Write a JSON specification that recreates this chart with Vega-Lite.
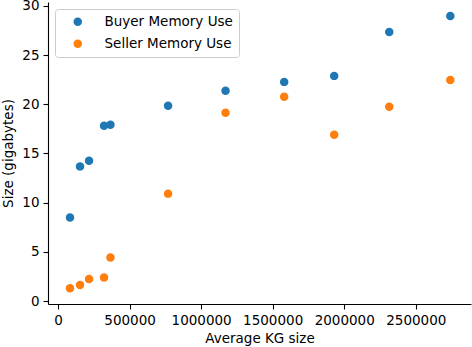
{
  "$schema": "https://vega.github.io/schema/vega-lite/v6.json",
  "width": 423,
  "height": 302,
  "autosize": {"type": "none"},
  "padding": {"left": 48, "top": 2, "right": 1, "bottom": 43},
  "background": "white",
  "config": {
    "view": {"stroke": null},
    "font": "DejaVu Sans",
    "axis": {
      "grid": false,
      "domainColor": "black",
      "domainWidth": 1.1,
      "tickColor": "black",
      "tickWidth": 1.1,
      "tickSize": 5,
      "labelPadding": 4,
      "labelFont": "DejaVu Sans",
      "labelFontSize": 13.5,
      "labelColor": "black",
      "titleFont": "DejaVu Sans",
      "titleFontSize": 13.5,
      "titleFontWeight": "normal",
      "titleColor": "black"
    }
  },
  "data": {
    "values": [
      {"kg": 83900, "size": 8.49, "series": "Buyer Memory Use"},
      {"kg": 153800, "size": 13.69, "series": "Buyer Memory Use"},
      {"kg": 216800, "size": 14.27, "series": "Buyer Memory Use"},
      {"kg": 321700, "size": 17.82, "series": "Buyer Memory Use"},
      {"kg": 366400, "size": 17.92, "series": "Buyer Memory Use"},
      {"kg": 769200, "size": 19.85, "series": "Buyer Memory Use"},
      {"kg": 1170600, "size": 21.37, "series": "Buyer Memory Use"},
      {"kg": 1580400, "size": 22.28, "series": "Buyer Memory Use"},
      {"kg": 1930000, "size": 22.89, "series": "Buyer Memory Use"},
      {"kg": 2314700, "size": 27.35, "series": "Buyer Memory Use"},
      {"kg": 2741300, "size": 28.98, "series": "Buyer Memory Use"},
      {"kg": 83900, "size": 1.29, "series": "Seller Memory Use"},
      {"kg": 153800, "size": 1.62, "series": "Seller Memory Use"},
      {"kg": 216800, "size": 2.23, "series": "Seller Memory Use"},
      {"kg": 321700, "size": 2.4, "series": "Seller Memory Use"},
      {"kg": 366400, "size": 4.43, "series": "Seller Memory Use"},
      {"kg": 769200, "size": 10.92, "series": "Seller Memory Use"},
      {"kg": 1170600, "size": 19.14, "series": "Seller Memory Use"},
      {"kg": 1580400, "size": 20.76, "series": "Seller Memory Use"},
      {"kg": 1930000, "size": 16.91, "series": "Seller Memory Use"},
      {"kg": 2314700, "size": 19.75, "series": "Seller Memory Use"},
      {"kg": 2741300, "size": 22.48, "series": "Seller Memory Use"}
    ]
  },
  "mark": {"type": "point", "filled": true, "opacity": 1, "size": 72, "strokeWidth": 0, "shape": "circle"},
  "encoding": {
    "x": {
      "field": "kg",
      "type": "quantitative",
      "scale": {"domain": [-70000, 2886000], "nice": false, "zero": false},
      "axis": {"values": [0, 500000, 1000000, 1500000, 2000000, 2500000], "format": "d", "title": "Average KG size", "titlePadding": 5}
    },
    "y": {
      "field": "size",
      "type": "quantitative",
      "scale": {"domain": [-0.3, 30.4], "nice": false, "zero": false},
      "axis": {"values": [0, 5, 10, 15, 20, 25, 30], "format": "d", "title": "Size (gigabytes)", "titlePadding": 6}
    },
    "color": {
      "field": "series",
      "type": "nominal",
      "scale": {"domain": ["Buyer Memory Use", "Seller Memory Use"], "range": ["#1f77b4", "#ff7f0e"]},
      "legend": {
        "title": null,
        "orient": "none",
        "legendX": 7,
        "legendY": 7,
        "padding": 6,
        "symbolOffset": 10,
        "labelOffset": 20,
        "rowPadding": 7,
        "symbolSize": 72,
        "symbolType": "circle",
        "symbolStrokeWidth": 0,
        "labelFont": "DejaVu Sans",
        "labelFontSize": 13.5,
        "labelColor": "black",
        "strokeColor": "#cccccc",
        "cornerRadius": 3,
        "fillColor": "rgba(255,255,255,0.8)"
      }
    }
  }
}
